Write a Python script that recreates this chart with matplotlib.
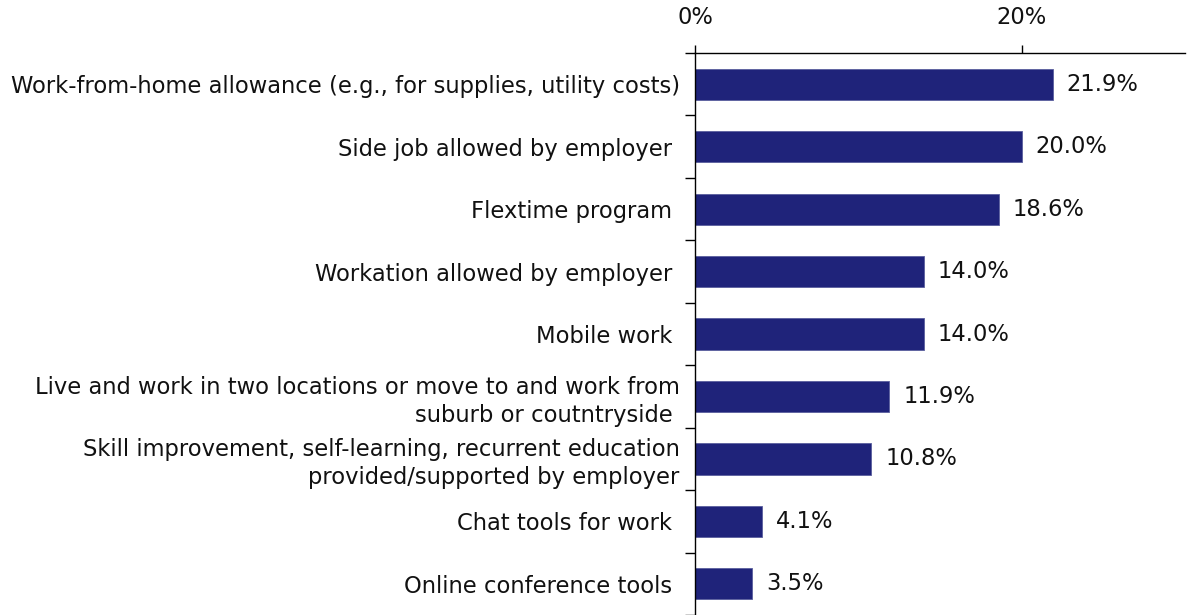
import matplotlib
matplotlib.use('Agg')
import matplotlib.pyplot as plt
import numpy as np

# 項目と割合(%)
labels = [
    'Work-from-home allowance (e.g., for supplies, utility costs)',
    'Side job allowed by employer ',
    'Flextime program ',
    'Workation allowed by employer ',
    'Mobile work ',
    'Live and work in two locations or move to and work from\nsuburb or coutntryside ',
    'Skill improvement, self-learning, recurrent education\nprovided/supported by employer',
    'Chat tools for work ',
    'Online conference tools ',
]
values = [21.9, 20.0, 18.6, 14.0, 14.0, 11.9, 10.8, 4.1, 3.5]
x_ticks = [0, 20]

bar_color = '#1F237A'
text_color = '#111111'
fs = 16.3

plt.rcParams['font.family'] = ['DejaVu Sans']

fig = plt.figure(figsize=(11.91, 6.15), dpi=100)
ax = fig.add_axes([0.5835, 0.0, 0.4115, 0.9138])

y = np.arange(len(labels))
ax.barh(y, values, height=0.5, color=bar_color, edgecolor='#5a5e9e', linewidth=0.6)

for yi, v in zip(y, values):
    ax.annotate(f'{v:.1f}%', xy=(v, yi), xytext=(10, 0), textcoords='offset points',
                va='center', ha='left', fontsize=fs, color=text_color)

ax.set_xlim(0, 30)
ax.set_ylim(len(labels) - 0.5, -0.5)

# x軸は上側
ax.xaxis.tick_top()
ax.set_xticks(x_ticks)
ax.set_xticklabels([f'{t}%' for t in x_ticks])
ax.tick_params(axis='x', direction='out', length=6, width=1, pad=11,
               labelsize=fs, labelcolor=text_color, color='black')

# y軸: ラベルは中央、目盛り線は項目の境界
ax.set_yticks(y)
ax.set_yticklabels(labels, fontsize=fs, color=text_color)
ax.tick_params(axis='y', which='major', length=0, pad=11)
ax.set_yticks(np.arange(-0.5, len(labels), 1), minor=True)
ax.tick_params(axis='y', which='minor', direction='out', length=7, width=1, color='black')

for lbl in ax.get_yticklabels():
    lbl.set_multialignment('right')
    lbl.set_linespacing(1.27)

ax.spines['right'].set_visible(False)
ax.spines['bottom'].set_visible(False)
ax.spines['top'].set_linewidth(1)
ax.spines['left'].set_linewidth(1)

fig.savefig('out.png', dpi=100)
